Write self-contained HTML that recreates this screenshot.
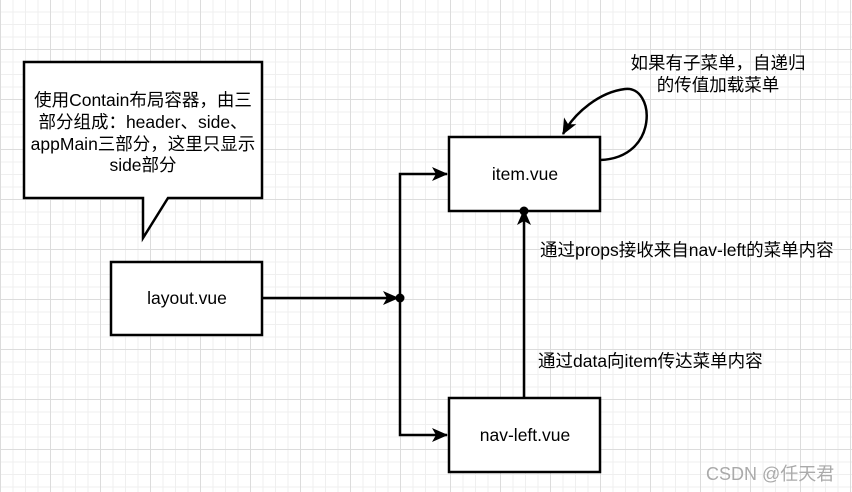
<!DOCTYPE html>
<html><head><meta charset="utf-8"><style>
html,body{margin:0;padding:0;}
body{width:852px;height:492px;overflow:hidden;background-color:#fff;
background-image:
linear-gradient(to right,#dcdcdc 1px,transparent 1px),
linear-gradient(to bottom,#dcdcdc 1px,transparent 1px),
linear-gradient(to right,#efefef 1px,transparent 1px),
linear-gradient(to bottom,#efefef 1px,transparent 1px);
background-size:50px 50px,50px 50px,12.5px 12.5px,12.5px 12.5px;
background-position:0 -1px,0 -1px,0 -1px,0 -1px;
font-family:"Liberation Sans","Noto Sans CJK SC",sans-serif;}
svg{position:absolute;left:0;top:0;}
text{font-family:"Liberation Sans","Noto Sans CJK SC",sans-serif;font-size:17.5px;fill:#000;}
</style></head><body>
<svg width="852" height="492" viewBox="0 0 852 492">
<defs><marker id="a" viewBox="0 0 16 14" refX="15" refY="7" markerWidth="16" markerHeight="14" markerUnits="userSpaceOnUse" orient="auto"><path d="M0,0 L16,7 L0,14 L4,7 Z" fill="#000"/></marker></defs>
<path d="M24,62 H262 V198 H168 L143,238 V198 H24 Z" fill="#fff" stroke="#000" stroke-width="2.5"/>
<text x="143" y="106" text-anchor="middle">使用Contain布局容器，由三</text>
<text x="143" y="128" text-anchor="middle">部分组成：header、side、</text>
<text x="143" y="150" text-anchor="middle">appMain三部分，这里只显示</text>
<text x="143" y="171" text-anchor="middle">side部分</text>
<rect x="111" y="262" width="151" height="73" fill="#fff" stroke="#000" stroke-width="2.5"/>
<text x="187" y="304" text-anchor="middle">layout.vue</text>
<rect x="449" y="137" width="151" height="74" fill="#fff" stroke="#000" stroke-width="2.5"/>
<text x="525" y="180" text-anchor="middle">item.vue</text>
<rect x="449" y="398" width="151" height="74" fill="#fff" stroke="#000" stroke-width="2.5"/>
<text x="525" y="441" text-anchor="middle">nav-left.vue</text>
<g stroke="#000" stroke-width="2.5" fill="none">
<path d="M262,298 H398" marker-end="url(#a)"/>
<path d="M400,298 V174 H447" marker-end="url(#a)"/>
<path d="M400,298 V435 H447" marker-end="url(#a)"/>
<path d="M524,398 V210" marker-end="url(#a)"/>
<path d="M600,160 C660,158 655,85 625,89 C600,92 575,112 563,134" marker-end="url(#a)"/>
</g>
<circle cx="400" cy="298" r="4.5" fill="#000"/>
<circle cx="524" cy="211" r="4.5" fill="#000"/>
<text x="718" y="69" text-anchor="middle">如果有子菜单，自递归</text>
<text x="718" y="91" text-anchor="middle">的传值加载菜单</text>
<text x="540" y="256">通过props接收来自nav-left的菜单内容</text>
<text x="538" y="367">通过data向item传达菜单内容</text>
<text x="706" y="480" style="fill:#aaa;font-size:18px">CSDN @任天君</text>
</svg>
</body></html>
